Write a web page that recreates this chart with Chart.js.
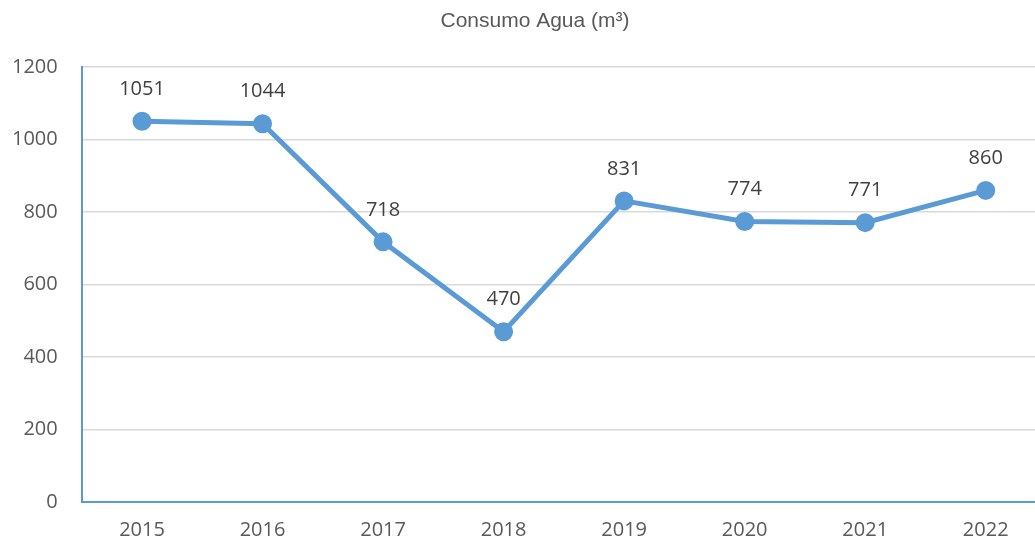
<!DOCTYPE html>
<html>
<head>
<meta charset="utf-8">
<script src="https://cdn.jsdelivr.net/npm/chart.js@4/dist/chart.umd.min.js"></script>
<style>
  html, body { margin: 0; padding: 0; background: #fff; overflow: hidden; }
  canvas { display: block; }
</style>
</head>
<body>
<canvas id="chart" width="1058" height="544"></canvas>
<script>
// data
var years = ['2015', '2016', '2017', '2018', '2019', '2020', '2021', '2022'];
var consumo = [1051, 1044, 718, 470, 831, 774, 771, 860];
var titleText = 'Consumo Agua (m\u00b3)';

var blue = '#5B9BD5';
var grey = '#595959';
var tickFont = { family: '"Open Sans", Lato, sans-serif', size: 20 };

// draw value labels above each point
var pointLabels = {
  id: 'pointLabels',
  afterDatasetsDraw: function(chart) {
    var ctx = chart.ctx;
    var meta = chart.getDatasetMeta(0);
    ctx.save();
    ctx.font = '20px "Open Sans", Lato, sans-serif';
    ctx.fillStyle = '#404040';
    ctx.textAlign = 'center';
    ctx.textBaseline = 'middle';
    meta.data.forEach(function(pt, i) {
      ctx.fillText(String(chart.data.datasets[0].data[i]), pt.x, pt.y - 32);
    });
    ctx.restore();
  }
};

var ctx = document.getElementById('chart');
var myChart = new Chart(ctx, {
  type: 'line',
  data: {
    labels: years,
    datasets: [{
      label: titleText,
      data: consumo,
      borderColor: blue,
      backgroundColor: blue,
      borderWidth: 5,
      pointRadius: 7,
      pointHoverRadius: 7,
      fill: false,
      tension: 0
    }]
  },
  options: {
    responsive: false,
    animation: false,
    layout: { padding: { left: 12, right: 0, top: 0, bottom: 2 } },
    plugins: {
      legend: { display: false },
      tooltip: { enabled: false },
      title: {
        display: true,
        text: titleText,
        color: grey,
        font: { family: '"Liberation Sans", Arial, sans-serif', size: 21, weight: 'normal' },
        padding: { top: 9, bottom: 33 }
      }
    },
    scales: {
      x: {
        offset: true,
        // tick padding is counted twice by chart.js, so use an invisible tick length for the gap
        grid: { color: 'transparent', tickColor: 'transparent', drawTicks: true, tickLength: 16 },
        border: { color: blue, width: 2 },
        ticks: { color: grey, font: tickFont, padding: 0 }
      },
      y: {
        min: 0,
        max: 1200,
        ticks: {
          stepSize: 200,
          color: grey,
          font: tickFont,
          padding: 0,
          callback: function(v) { return String(v); }
        },
        grid: { color: '#D9D9D9', lineWidth: 1.5, drawTicks: true, tickLength: 24, tickColor: 'transparent' },
        border: { color: blue, width: 2 }
      }
    }
  },
  plugins: [pointLabels]
});
</script>
</body>
</html>
